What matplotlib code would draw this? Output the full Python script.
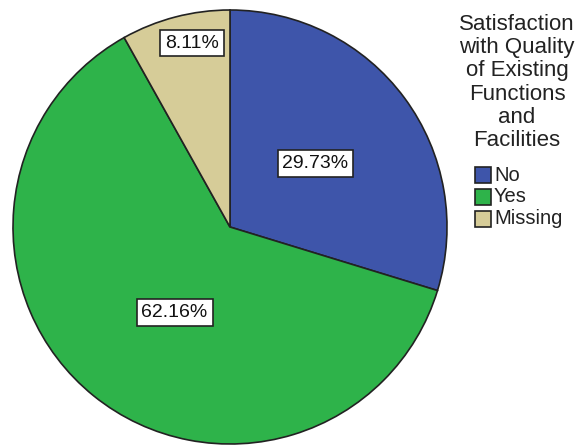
import numpy as np
import matplotlib.pyplot as plt
from matplotlib.patches import Rectangle

plt.rcParams['font.family'] = ['Liberation Sans', 'DejaVu Sans']

categories = ['No', 'Yes', 'Missing']
percents = [29.73, 62.16, 8.11]
colors = ['#3e55aa', '#2eb34a', '#d6cc98']

# label placement: distance from centre (radius units) and angular nudge (deg)
label_dist = [0.49, 0.47, 0.865]
label_nudge = [0, 6, -3]

W, H = 579, 445
fig = plt.figure(figsize=(W / 100, H / 100), dpi=100)

# pie axes: radius ~217 px, centred at (230, 227) from the top-left
cx, cy, r = 230, 227, 217
ax = fig.add_axes([(cx - r) / W, (H - cy - r) / H, 2 * r / W, 2 * r / H])

wedges, _ = ax.pie(percents, colors=colors, startangle=90, counterclock=False,
                   radius=1, wedgeprops=dict(edgecolor='#222222', linewidth=1.2))
ax.set_xlim(-1, 1)
ax.set_ylim(-1, 1)
ax.set_aspect('equal')
ax.axis('off')

for w, pct, d, nudge in zip(wedges, percents, label_dist, label_nudge):
    mid = np.deg2rad((w.theta1 + w.theta2) / 2 + nudge)
    ax.text(d * np.cos(mid), d * np.sin(mid), f'{pct:.2f}%',
            ha='center', va='center', fontsize=14, color='#111111',
            bbox=dict(boxstyle='square,pad=0.25', fc='white', ec='#222222', lw=1.2))

# legend title and entries
title = 'Satisfaction\nwith Quality\nof Existing\nFunctions\nand\nFacilities'
fig.text(517 / W, 1 - 14 / H, title, ha='center', va='top', fontsize=16,
         linespacing=1.14, color='#222222')

for i, (cat, col) in enumerate(zip(categories, colors)):
    y = 175 + i * 22
    fig.patches.append(Rectangle((475 / W, 1 - (y + 8) / H), 16 / W, 16 / H,
                                 transform=fig.transFigure, fc=col, ec='#222222', lw=1.2))
    fig.text(494 / W, 1 - y / H, cat, ha='left', va='center', fontsize=14.5, color='#222222')

fig.savefig('out.png', dpi=100)
